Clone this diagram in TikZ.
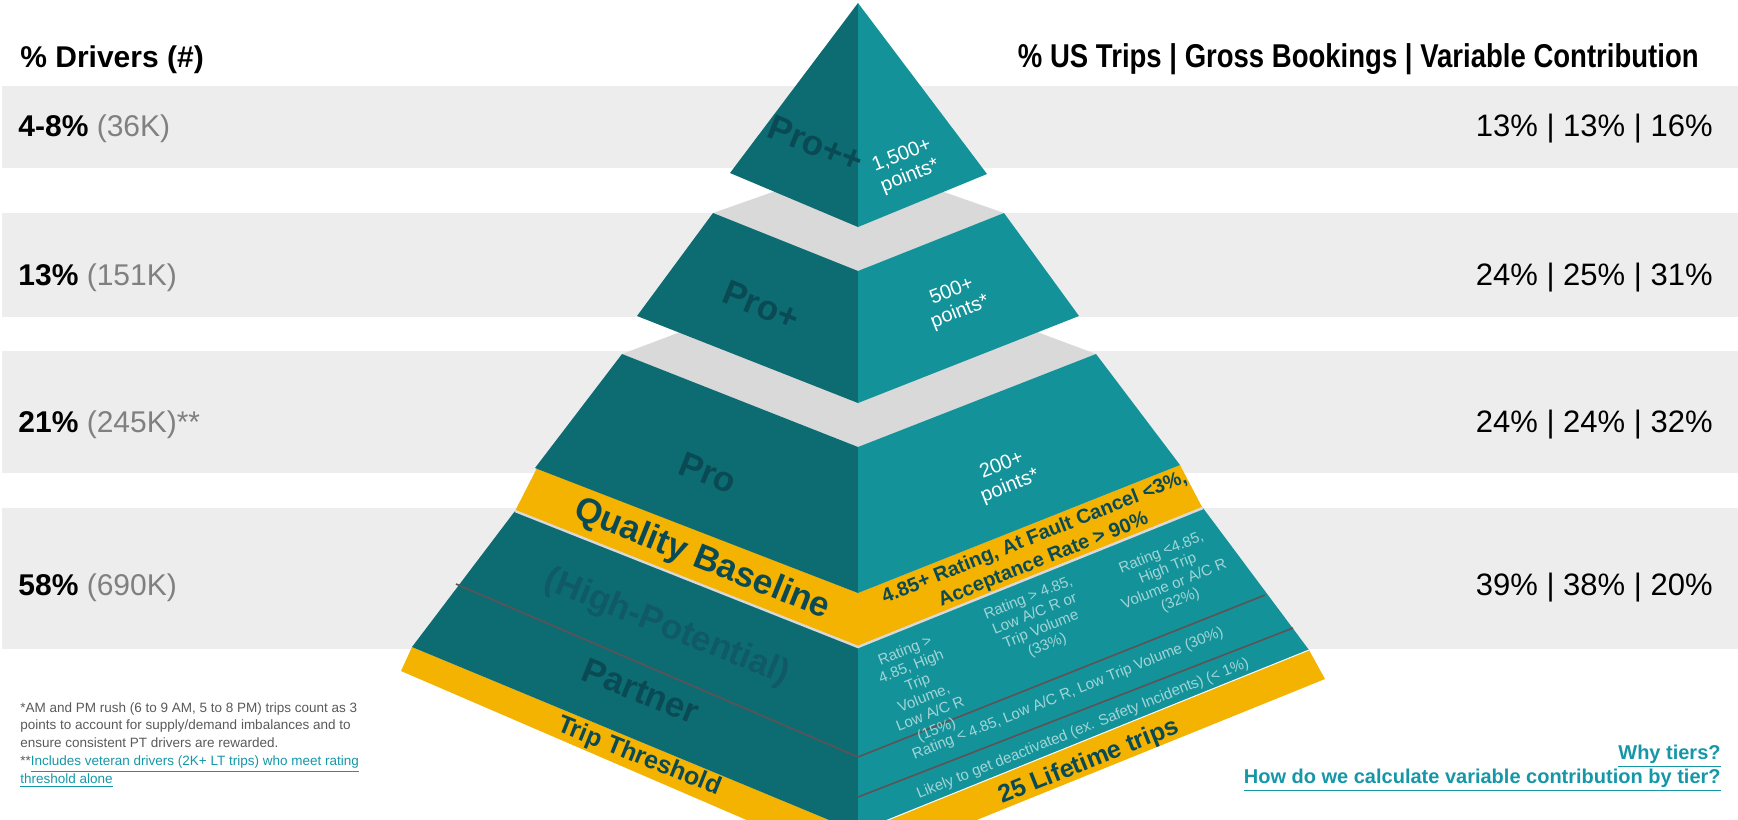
\documentclass[tikz,border=0pt]{standalone}
\usepackage{fontspec}
\setmainfont{Liberation Sans}
\usepackage{xcolor}
\usepackage{tikz}

\definecolor{bandgray}{HTML}{EDEDED}
\definecolor{ledgegray}{HTML}{D9D9D9}
\definecolor{tealdark}{HTML}{0D6C72}
\definecolor{teallight}{HTML}{139399}
\definecolor{gold}{HTML}{F3B300}
\definecolor{inkteal}{HTML}{0A4A54}
\definecolor{fadeteal}{HTML}{0F5A66}
\definecolor{paleteal}{HTML}{A2D5D8}
\definecolor{sepline}{HTML}{5E5256}
\definecolor{linkteal}{HTML}{1597A7}
\definecolor{notegray}{HTML}{595959}
\definecolor{countgray}{HTML}{808080}

\newcommand{\ulink}[1]{\underline{#1}}

\begin{document}
\begin{tikzpicture}[
x=0.5pt,
y=-0.5pt,
every node/.style={inner sep=0pt},
band/.style={fill=bandgray},
ledge/.style={fill=ledgegray},
lface/.style={fill=tealdark},
rface/.style={fill=teallight},
goldband/.style={fill=gold},
sep/.style={draw=sepline,line width=0.8pt},
head/.style={font=\fontsize{15}{18}\selectfont\bfseries},
pct/.style={font=\fontsize{15}{18}\selectfont,anchor=base west},
share/.style={font=\fontsize{15.5}{18}\selectfont,anchor=base east},
tier/.style={font=\fontsize{17.5}{20}\selectfont\bfseries,text=inkteal,rotate=-21.8},
pts/.style={font=\fontsize{10}{11}\selectfont,text=white,align=center,rotate=21.8},
crit/.style={font=\fontsize{7.5}{8.5}\selectfont,text=paleteal,align=center,rotate=21.8},
gate/.style={font=\fontsize{12.5}{14}\selectfont\bfseries,text=inkteal},
note/.style={font=\fontsize{6.75}{8.85}\selectfont,text=notegray,align=left,anchor=base west},
link/.style={font=\fontsize{10}{12}\selectfont\bfseries,text=linkteal,anchor=base east}
]
\useasboundingbox (0,0) rectangle (1738,819);
\clip (0,0) rectangle (1738,819);

% row bands
\fill[band] (2,86) rectangle (1738,168);
\fill[band] (2,213) rectangle (1738,317);
\fill[band] (2,351) rectangle (1738,473);
\fill[band] (2,508) rectangle (1738,649);

% bottom layer: trip threshold + partner
\fill[goldband] (412,647) -- (858,832) -- (1309,650) -- (1325,679) -- (858,868) -- (401,671) -- cycle;
\fill[lface] (515,511) -- (858,647) -- (858,832) -- (412,647) -- cycle;
\fill[rface] (858,647) -- (1203,508) -- (1309,650) -- (858,832) -- cycle;
\draw[white,line width=0.5pt] (858,832) -- (1309,650);
\draw[sep] (456,584) -- (858,757) -- (1265,595);
\draw[sep] (858,797) -- (1293,628);

% quality baseline
\fill[goldband] (537,468) -- (858,593) -- (1180,465) -- (1202,507) -- (858,646) -- (515,511) -- cycle;
\draw[ledgegray,line width=1.2pt] (515,511) -- (858,647) -- (1203,508);

% pro
\fill[ledge] (622,354) -- (858,265) -- (1096,354) -- (858,447) -- cycle;
\fill[lface] (622,354) -- (858,447) -- (858,593) -- (535,468) -- cycle;
\fill[rface] (858,447) -- (1096,354) -- (1180,465) -- (858,593) -- cycle;

% pro+
\fill[ledge] (713,213) -- (858,162) -- (1004,213) -- (858,271) -- cycle;
\fill[lface] (713,213) -- (858,271) -- (858,403) -- (637,316) -- cycle;
\fill[rface] (858,271) -- (1004,213) -- (1079,316) -- (858,403) -- cycle;

% pro++
\fill[lface] (858,3) -- (730,173) -- (858,227) -- cycle;
\fill[rface] (858,3) -- (858,227) -- (987,174) -- cycle;

% headers and rows
\node[head,anchor=base west] (drvhead) at (20,67) {\% Drivers (\#)};
\node[head,anchor=base east] (kpihead) at (1699,67) {\scalebox{0.834}[1]{\fontsize{16.5}{18}\selectfont\% US Trips | Gross Bookings | Variable Contribution}};

\node[pct] (drv1) at (18,136) {\textbf{4-8\%} \textcolor{countgray}{(36K)}};
\node[pct] (drv2) at (18,285) {\textbf{13\%} \textcolor{countgray}{(151K)}};
\node[pct] (drv3) at (18,432) {\textbf{21\%} \textcolor{countgray}{(245K)**}};
\node[pct] (drv4) at (18,595) {\textbf{58\%} \textcolor{countgray}{(690K)}};

\node[share] (kpi1) at (1713,136) {13\% | 13\% | 16\%};
\node[share] (kpi2) at (1713,285) {24\% | 25\% | 31\%};
\node[share] (kpi3) at (1713,432) {24\% | 24\% | 32\%};
\node[share] (kpi4) at (1713,595) {39\% | 38\% | 20\%};

% tier labels
\node[tier] (propp) at (816,144) {Pro++};
\node[pts] (proppts) at (906,166) {1,500+\\points*};
\node[tier] (prop) at (761,305) {Pro+};
\node[pts] (propts) at (956,302) {500+\\points*};
\node[tier] (pro) at (708,473) {Pro};
\node[pts] (propts2) at (1006,476) {200+\\points*};
\node[tier] (quality) at (702,560) {Quality Baseline};
\node[gate,rotate=21.8,align=center,font=\fontsize{10}{12}\selectfont\bfseries] (qualrule) at (1039,549) {4.85+ Rating, At Fault Cancel <3\%,\\Acceptance Rate > 90\%};
\node[tier,text=fadeteal] (highpot) at (667,628) {(High-Potential)};
\node[tier] (partner) at (641,691) {Partner};
\node[gate,rotate=-21.8] (tripth) at (639,757) {Trip Threshold};
\node[gate,rotate=21.8] (lifetime) at (1089,762) {25 Lifetime trips};

% partner criteria
\node[crit] (crit15) at (921,691) {Rating >\\4.85, High\\Trip\\Volume,\\Low A/C R\\(15\%)};
\node[crit] (crit33) at (1038,622) {Rating > 4.85,\\Low A/C R or\\Trip Volume\\(33\%)};
\node[crit] (crit32) at (1171,577) {Rating <4.85,\\High Trip\\Volume or A/C R\\(32\%)};
\node[crit] (crit30) at (1068,694) {Rating < 4.85, Low A/C R, Low Trip Volume (30\%)};
\node[crit] (crit1) at (1083,729) {Likely to get deactivated (ex. Safety Incidents) (< 1\%)};

% notes and links
\node[note] (fnote) at (20,783) {*AM and PM rush (6 to 9 AM, 5 to 8 PM) trips count as 3\\points to account for supply/demand imbalances and to\\ensure consistent PT drivers are rewarded.\\**\textcolor{linkteal}{\ulink{Includes veteran drivers (2K+ LT trips) who meet rating}}\\\textcolor{linkteal}{\ulink{threshold alone}}};
\node[link] (whytiers) at (1721,759) {\ulink{Why tiers?}};
\node[link] (howcalc) at (1721,783) {\ulink{How do we calculate variable contribution by tier?}};
\end{tikzpicture}
\end{document}
